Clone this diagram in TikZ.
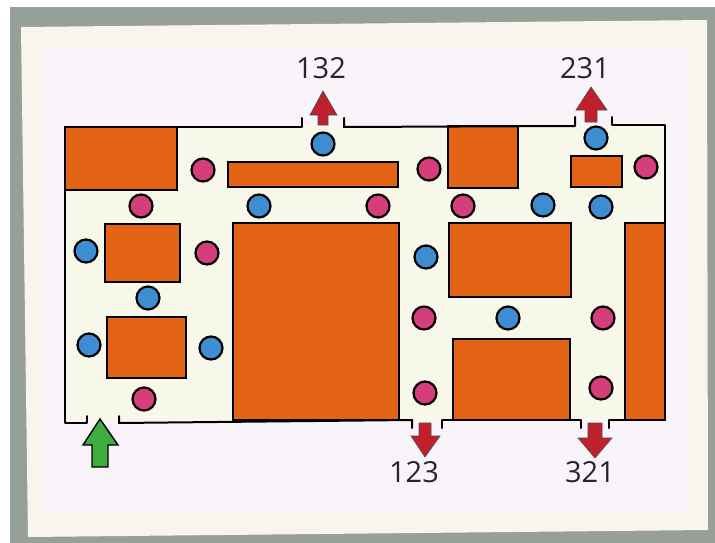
\documentclass[tikz,border=0pt]{standalone}
\usepackage{fontspec}
\usepackage{tikz}
\usetikzlibrary{calc}
\newfontfamily\exitfont{Open Sans}
\definecolor{bggray}{RGB}{150,160,152}
\definecolor{card}{RGB}{250,245,236}
\definecolor{paper}{RGB}{248,244,250}
\definecolor{floor}{RGB}{247,247,234}
\definecolor{blockorange}{RGB}{228,100,22}
\definecolor{dotpink}{RGB}{212,62,122}
\definecolor{dotblue}{RGB}{62,140,210}
\definecolor{exitred}{RGB}{192,32,44}
\definecolor{entergreen}{RGB}{62,172,62}

\tikzset{
  wall/.style={line width=2pt,black,line cap=round,line join=round},
  block/.style={fill=blockorange,draw=black,line width=1.8pt},
  pinkdot/.style={fill=dotpink,draw=black,line width=2.2pt},
  bluedot/.style={fill=dotblue,draw=black,line width=2.2pt},
  exitarrow/.style={fill=exitred,draw=black!70,line width=0.6pt},
  label/.style={font=\exitfont\fontsize{29}{29}\selectfont,text=black!85,inner sep=0pt}
}

\begin{document}
\begin{tikzpicture}[x=1pt,y=-1pt]
  \useasboundingbox (0,0) rectangle (715,543);
  % photo background and card
  \fill[white] (0,0) rectangle (715,543);
  \fill[bggray] (10,7) rectangle (715,543);
  \fill[card] (21,27) -- (707,20) -- (708,530) -- (28,537) -- cycle;
  \fill[paper] (45,48) rectangle (690,512);
  % floor of the maze
  \fill[floor] (65,126) rectangle (665,421);
  % blocks
  \draw[block] (65,127) rectangle (177,190);
  \draw[block] (228,162) rectangle (398,187);
  \draw[block] (105,224) rectangle (180,282);
  \draw[block] (107,317) rectangle (186,378);
  \draw[block] (233,223) rectangle (399,420);
  \draw[block] (448,126) rectangle (518,188);
  \draw[block] (571,156) rectangle (622,187);
  \draw[block] (449,223) rectangle (571,297);
  \draw[block] (453,339) rectangle (570,420);
  \draw[block] (625,223) rectangle (665,420);
  % outer wall with openings
  \draw[wall] (87,416) -- (87,423) -- (65,423) -- (65,127) -- (302,127) -- (302,118);
  \draw[wall] (344,118) -- (344,127) -- (575,126) -- (575,117);
  \draw[wall] (612,117) -- (612,125) -- (665,125) -- (665,420) -- (609,420) -- (609,428);
  \draw[wall] (581,428) -- (581,420) -- (442,420) -- (442,428);
  \draw[wall] (412,428) -- (412,420) -- (119,423) -- (119,416);
  % pink dots
  \foreach \px/\py in {203/170,141/206,207/253,144/399,429/169,378/206,
                       463/206,646/167,424/318,603/318,425/393,601/388}
    \draw[pinkdot] (\px,\py) circle (11.5);
  % blue dots
  \foreach \bx/\by in {323/144,259/206,86/251,148/298,89/345,211/348,
                       596/138,543/205,601/207,426/257,508/318}
    \draw[bluedot] (\bx,\by) circle (11.5);
  % exit arrows
  \draw[exitarrow] (318,125) -- (318,115) -- (310,115) -- (323,91) -- (337,115)
    -- (328,115) -- (328,125) -- cycle;
  \draw[exitarrow] (585,122) -- (585,110) -- (576,110) -- (591,87) -- (607,110)
    -- (597,110) -- (597,122) -- cycle;
  \draw[exitarrow] (419,423) -- (419,436) -- (411,436) -- (425,457) -- (440,436)
    -- (431,436) -- (431,423) -- cycle;
  \draw[exitarrow] (588,423) -- (588,438) -- (578,438) -- (595,458) -- (612,438)
    -- (602,438) -- (602,423) -- cycle;
  % entrance arrow
  \draw[fill=entergreen,draw=black,line width=1.4pt] (92,467) -- (92,445) -- (83,445)
    -- (100,419) -- (118,445) -- (108,445) -- (108,467) -- cycle;
  % exit labels
  \node[label] (l132) at (321,68) {132};
  \node[label] (l231) at (585,68) {231};
  \node[label] (l123) at (414,472) {123};
  \node[label] (l321) at (590,472) {321};
\end{tikzpicture}
\end{document}
